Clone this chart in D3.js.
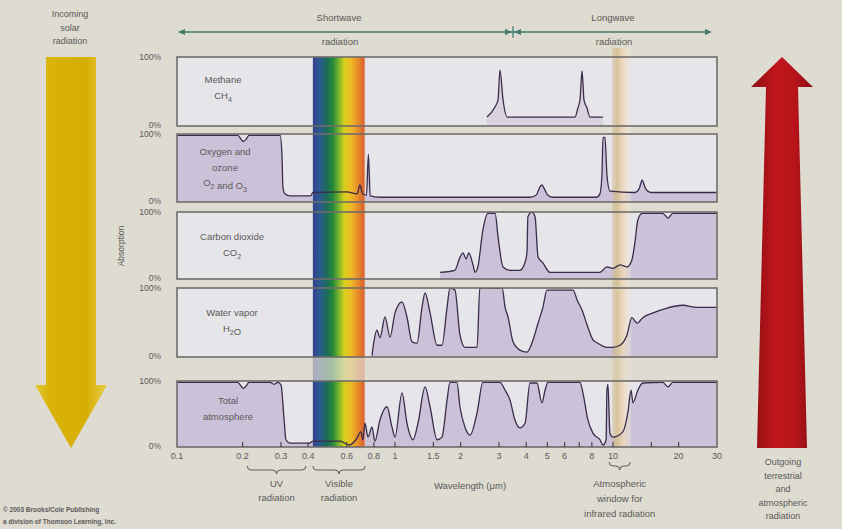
<!DOCTYPE html>
<html lang="en">
<head>
<meta charset="UTF-8">
<title>Atmospheric absorption</title>
<style>
  body { margin: 0; background: #dedbd1; }
  svg { display: block; font-family: "Liberation Sans", Arial, sans-serif; }
  text { fill: #5b5a58; }
</style>
</head>
<body>
<script src="https://d3js.org/d3.v7.min.js"></script>
<script>
// wavelength axis (µm)
var tickLabels = [0.1, 0.2, 0.3, 0.4, 0.6, 0.8, 1, 1.5, 2, 3, 4, 5, 6, 8, 10, 20, 30];
var tickMarks = [0.2, 0.3, 0.4, 0.6, 0.8, 1, 1.5, 2, 3, 4, 5, 6, 7, 8, 10, 15, 20];

// absorption spectra: [wavelength µm, absorption %]
var methane = [[2.64, 13], [2.88, 28], [2.97, 38], [3.03, 81], [3.13, 38], [3.27, 13], [6.7, 13], [6.9, 26],
  [7.06, 38], [7.21, 80], [7.36, 38], [7.6, 26], [7.84, 13], [9.0, 13]];
var oxygen = [[0.1, 98], [0.19, 98], [0.197, 92], [0.201, 89], [0.207, 92], [0.214, 98], [0.297, 98], [0.303, 70],
  [0.306, 22], [0.313, 12], [0.33, 9], [0.41, 9], [0.42, 14], [0.6, 15], [0.67, 12], [0.69, 25], [0.71, 12],
  [0.74, 10], [0.755, 70], [0.77, 9], [0.85, 7], [4.16, 7], [4.44, 10], [4.62, 22], [4.72, 25], [4.83, 20],
  [5.03, 10], [5.3, 7], [8.4, 7], [8.71, 12], [8.9, 40], [9.0, 95], [9.19, 95], [9.38, 40], [9.68, 16],
  [12.6, 14], [13.2, 20], [13.6, 32], [14.1, 20], [14.9, 14], [30, 14]];
var co2 = [[1.61, 10], [1.88, 13], [1.99, 33], [2.05, 39], [2.12, 30], [2.18, 39], [2.28, 21], [2.33, 10],
  [2.4, 18], [2.53, 73], [2.67, 98], [2.88, 98], [2.97, 63], [3.13, 18], [3.37, 13], [3.74, 13], [3.95, 25],
  [4.03, 39], [4.07, 93], [4.25, 100], [4.39, 93], [4.53, 33], [4.77, 24], [5.14, 10], [8.71, 10], [9.38, 18],
  [10.0, 16], [10.77, 21], [11.59, 18], [12.2, 28], [12.6, 54], [13.0, 88], [13.6, 98], [16.9, 98],
  [17.9, 91], [18.8, 98], [30, 98]];
var water = [[0.784, 2], [0.8, 22], [0.826, 39], [0.853, 28], [0.9, 58], [0.949, 29], [1.0, 64], [1.077, 80],
  [1.135, 58], [1.197, 22], [1.262, 20], [1.33, 72], [1.374, 93], [1.448, 64], [1.56, 17], [1.643, 17],
  [1.733, 72], [1.787, 100], [1.884, 97], [1.986, 32], [2.094, 14], [2.38, 14], [2.45, 100], [3.1, 100],
  [3.2, 72], [3.3, 58], [3.48, 22], [3.74, 10], [4.03, 7], [4.3, 25], [4.53, 49], [4.77, 72], [4.98, 97],
  [6.56, 97], [6.84, 83], [7.21, 68], [7.67, 43], [8.09, 25], [8.53, 20], [9.38, 14], [10.0, 14],
  [10.77, 17], [11.59, 32], [12.2, 57], [12.9, 49], [13.7, 57], [15.3, 64], [17.7, 71], [20.9, 75],
  [24.3, 72], [30, 72]];
var total = [[0.1, 98], [0.19, 98], [0.197, 92], [0.201, 89], [0.207, 92], [0.214, 98], [0.267, 98],
  [0.279, 95], [0.29, 98], [0.3, 94], [0.31, 41], [0.316, 11], [0.33, 6], [0.407, 6], [0.42, 9], [0.56, 9],
  [0.615, 3], [0.662, 11], [0.698, 23], [0.713, 11], [0.728, 36], [0.752, 15], [0.784, 30], [0.809, 9],
  [0.853, 41], [0.919, 61], [0.969, 30], [1.0, 15], [1.077, 82], [1.135, 36], [1.21, 11], [1.275, 36],
  [1.374, 91], [1.448, 61], [1.56, 11], [1.643, 15], [1.733, 71], [1.787, 98], [1.924, 98], [1.986, 61],
  [2.094, 30], [2.21, 18], [2.38, 52], [2.53, 98], [3.03, 98], [3.2, 86], [3.37, 71], [3.55, 41],
  [3.74, 29], [3.95, 36], [4.16, 97], [4.48, 97], [4.72, 67], [4.88, 86], [5.03, 98], [7.06, 98],
  [7.28, 82], [7.67, 41], [8.09, 21], [8.71, 11], [9.0, 3], [9.3, 11], [9.38, 86], [9.48, 95], [9.68, 21],
  [10.0, 15], [11.1, 23], [11.7, 52], [12.1, 86], [12.35, 67], [13.0, 86], [13.7, 97], [16.9, 98],
  [17.9, 91], [18.8, 98], [30, 98]];

var spectra = [methane, oxygen, co2, water, total];
var gasNames = [["Methane", "CH_4"], ["Oxygen and", "ozone", "O_2 and O_3"], ["Carbon dioxide", "CO_2"],
  ["Water vapor", "H_2O"], ["Total", "atmosphere"]];
var visibleBand = [0.42, 0.73];
var windowBand = [9.9, 12.1];

// layout
var panelTop = [57, 134, 212, 288, 381];
var panelBottom = [126, 202, 279, 357, 447];
var labelX = [223, 225, 232, 232, 228];
var labelY = [83, 155, 240, 316, 404];
var fillOpacity = [0.5, 1, 1, 1, 1];

var svg = d3.select("body").append("svg").attr("width", 842).attr("height", 529);
var defs = svg.append("defs");

var x = d3.scaleLog().domain([0.1, 30]).range([177, 717]);

function gradient(id, stops) {
  var lg = defs.append("linearGradient").attr("id", id).attr("x1", 0).attr("x2", 1).attr("y1", 0).attr("y2", 0);
  stops.forEach(function (s) {
    lg.append("stop").attr("offset", s[0]).attr("stop-color", s[1]).attr("stop-opacity", s[2] == null ? 1 : s[2]);
  });
}
gradient("rainbow", [[0, "#35418c"], [0.12, "#2b5893"], [0.26, "#1c6a5c"], [0.38, "#23893a"], [0.5, "#7bb52a"],
  [0.6, "#d6cf1f"], [0.72, "#eebd24"], [0.86, "#e78d2a"], [0.97, "#d9652f"], [1, "#eab3a0"]]);
gradient("window", [[0, "#cfb483", 0.4], [0.25, "#d6bd8c", 1], [0.6, "#ecd9bb", 1], [1, "#f3e9dc", 0.4]]);
gradient("sun", [[0, "#e6cb3a"], [0.2, "#d9b30a"], [0.7, "#d6ad04"], [1, "#e7cd45"]]);
gradient("earth", [[0, "#8c0d12"], [0.4, "#bf161c"], [0.7, "#b8141a"], [1, "#8a0e12"]]);

function richText(sel, str) {
  str.split(/(_\d)/).forEach(function (part) {
    if (!part) return;
    if (part[0] === "_") {
      sel.append("tspan").attr("font-size", 7).attr("dy", 3).text(part.slice(1));
      sel.append("tspan").attr("dy", -3).text("");
    } else {
      sel.append("tspan").text(part);
    }
  });
}

// bands running between panels
function bandRect(range, y0, y1, fill, op) {
  svg.append("rect").attr("x", x(range[0])).attr("y", y0)
    .attr("width", x(range[1]) - x(range[0])).attr("height", y1 - y0)
    .attr("fill", fill).attr("opacity", op);
}
bandRect(windowBand, 48, panelTop[0], "url(#window)", 0.85);
for (var k = 0; k < 4; k++) {
  bandRect(visibleBand, panelBottom[k], panelTop[k + 1], "url(#rainbow)", k === 3 ? 0.3 : 1);
  bandRect(windowBand, panelBottom[k], panelTop[k + 1], "url(#window)", k === 3 ? 0.5 : 0.85);
}

spectra.forEach(function (data, i) {
  var top = panelTop[i], bottom = panelBottom[i];
  var y = d3.scaleLinear().domain([0, 100]).range([bottom, top]);
  var g = svg.append("g");
  var w = x(30) - x(0.1);

  defs.append("clipPath").attr("id", "clip" + i).append("rect")
    .attr("x", x(0.1)).attr("y", top).attr("width", w).attr("height", bottom - top);

  g.append("rect").attr("x", x(0.1)).attr("y", top).attr("width", w).attr("height", bottom - top)
    .attr("fill", "#e6e5e9");

  var area = d3.area().x(function (d) { return x(d[0]); }).y0(bottom)
    .y1(function (d) { return y(d[1]); }).curve(d3.curveMonotoneX);
  var line = d3.line().x(function (d) { return x(d[0]); })
    .y(function (d) { return y(d[1]); }).curve(d3.curveMonotoneX);

  var inner = g.append("g").attr("clip-path", "url(#clip" + i + ")");
  inner.append("path").datum(data).attr("d", area).attr("fill", "#cbc1d8").attr("opacity", fillOpacity[i]);
  inner.append("rect").attr("x", x(visibleBand[0])).attr("y", top)
    .attr("width", x(visibleBand[1]) - x(visibleBand[0])).attr("height", bottom - top).attr("fill", "url(#rainbow)");
  inner.append("rect").attr("x", x(windowBand[0])).attr("y", top)
    .attr("width", x(windowBand[1]) - x(windowBand[0])).attr("height", bottom - top)
    .attr("fill", "url(#window)").attr("opacity", 0.85);
  inner.append("path").datum(data).attr("d", line).attr("fill", "none")
    .attr("stroke", "#3a2c4a").attr("stroke-width", 1.3);

  g.append("rect").attr("x", x(0.1)).attr("y", top).attr("width", w).attr("height", bottom - top)
    .attr("fill", "none").attr("stroke", "#6f6d6a").attr("stroke-width", 1.6);

  g.append("text").attr("x", 161).attr("y", top).attr("dy", "0.35em").attr("text-anchor", "end")
    .attr("font-size", 8.5).text("100%");
  g.append("text").attr("x", 161).attr("y", bottom).attr("dy", "0.2em").attr("text-anchor", "end")
    .attr("font-size", 8.5).text("0%");

  gasNames[i].forEach(function (s, j) {
    var t = g.append("text").attr("x", labelX[i]).attr("y", labelY[i] + j * 15.5)
      .attr("text-anchor", "middle").attr("font-size", 9.5);
    richText(t, s);
  });

  if (i === 4) {
    g.selectAll(".tick").data(tickMarks).enter().append("line")
      .attr("x1", function (d) { return x(d); }).attr("x2", function (d) { return x(d); })
      .attr("y1", bottom).attr("y2", bottom - 5).attr("stroke", "#4a4a4a").attr("stroke-width", 1.2);
  }
});

// tick labels
svg.selectAll(".tl").data(tickLabels).enter().append("text")
  .attr("x", function (d) { return x(d); }).attr("y", 459)
  .attr("text-anchor", "middle").attr("font-size", 9).text(function (d) { return d; });

svg.append("text").attr("transform", "translate(124,246) rotate(-90)").attr("text-anchor", "middle")
  .attr("font-size", 8.5).text("Absorption");

// shortwave / longwave arrow
var split = 513;
var teal = "#3f7a6a";
svg.append("line").attr("x1", x(0.1) + 2).attr("x2", 710).attr("y1", 32).attr("y2", 32)
  .attr("stroke", teal).attr("stroke-width", 1.4);
function head(px, dir) {
  svg.append("path").attr("d", "M" + px + ",32 l" + (-7 * dir) + ",-3 l0,6 z").attr("fill", teal);
}
head(x(0.1) + 1, -1);
head(712, 1);
head(split - 1, 1);
head(split + 1, -1);
svg.append("line").attr("x1", split).attr("x2", split).attr("y1", 26).attr("y2", 38)
  .attr("stroke", teal).attr("stroke-width", 1.2);
[["Shortwave", 339, 21], ["radiation", 340, 45], ["Longwave", 613, 21], ["radiation", 614, 45]].forEach(function (t) {
  svg.append("text").attr("x", t[1]).attr("y", t[2]).attr("text-anchor", "middle").attr("font-size", 9.5).text(t[0]);
});

// incoming solar arrow
svg.append("polygon").attr("points", "46,57 96,57 96,385 107,385 71,448 35,385 46,385").attr("fill", "url(#sun)");
["Incoming", "solar", "radiation"].forEach(function (s, j) {
  svg.append("text").attr("x", 70).attr("y", 17 + j * 13.5).attr("text-anchor", "middle").attr("font-size", 9).text(s);
});

// outgoing arrow
svg.append("polygon").attr("points", "782,57 813,87 798,87 807,448 757,448 766,87 751,87").attr("fill", "url(#earth)");
["Outgoing", "terrestrial", "and", "atmospheric", "radiation"].forEach(function (s, j) {
  svg.append("text").attr("x", 783).attr("y", 465 + j * 13.5).attr("text-anchor", "middle").attr("font-size", 9).text(s);
});

// braces under the axis
function brace(a, b, y0) {
  var x1 = x(a), x2 = x(b), m = (x1 + x2) / 2;
  var p = "M" + x1 + "," + y0 + " q0,4 4,4 L" + (m - 4) + "," + (y0 + 4) + " q4,0 4,4 q0,-4 4,-4 L" +
    (x2 - 4) + "," + (y0 + 4) + " q4,0 4,-4";
  svg.append("path").attr("d", p).attr("fill", "none").attr("stroke", "#5b5a58").attr("stroke-width", 1);
  return m;
}
var uvMid = brace(0.21, 0.39, 466);
var visMid = brace(visibleBand[0], visibleBand[1], 466);
var winMid = brace(9.6, 12, 462);
function lines(arr, cx, y0, dy, size) {
  arr.forEach(function (s, j) {
    svg.append("text").attr("x", cx).attr("y", y0 + j * dy).attr("text-anchor", "middle").attr("font-size", size).text(s);
  });
}
lines(["UV", "radiation"], uvMid, 487, 13.5, 9.5);
lines(["Visible", "radiation"], visMid, 487, 13.5, 9.5);
lines(["Wavelength (\u03bcm)"], 470, 489, 13.5, 9.5);
lines(["Atmospheric", "window for", "infrared radiation"], winMid, 487, 15, 9.5);

svg.append("text").attr("x", 3).attr("y", 512).attr("font-size", 6.5).attr("font-weight", "bold")
  .text("\u00a9 2003 Brooks/Cole Publishing");
svg.append("text").attr("x", 3).attr("y", 524).attr("font-size", 6.5).attr("font-weight", "bold")
  .text("a division of Thomson Learning, Inc.");
</script>
</body>
</html>
